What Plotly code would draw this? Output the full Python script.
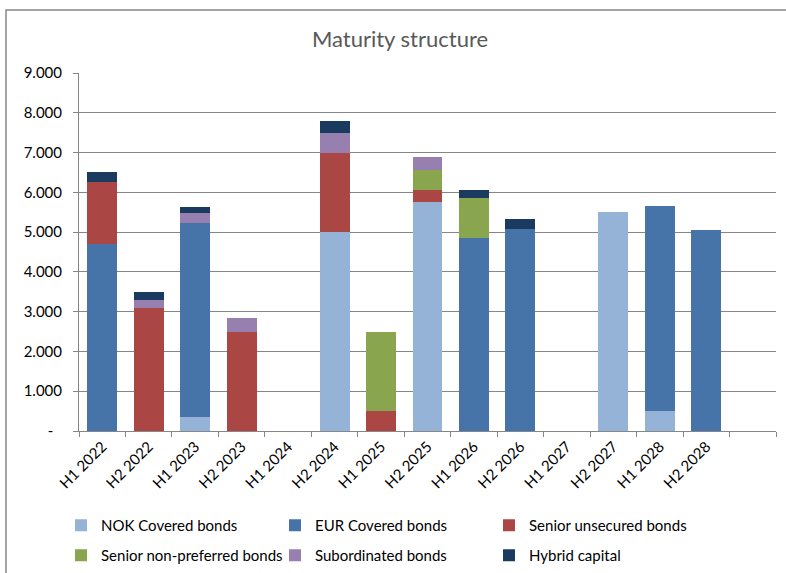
import plotly.graph_objects as go

# Half-year maturity buckets (last slot is an empty spacer on the axis)
periods = ["H1 2022", "H2 2022", "H1 2023", "H2 2023", "H1 2024", "H2 2024",
           "H1 2025", "H2 2025", "H1 2026", "H2 2026", "H1 2027", "H2 2027",
           "H1 2028", "H2 2028", " "]

nok_covered = [0, 0, 350, 0, 0, 5000, 0, 5750, 0, 0, 0, 5500, 500, 0, 0]
eur_covered = [4700, 0, 4870, 0, 0, 0, 0, 0, 4850, 5075, 0, 0, 5160, 5050, 0]
senior_unsecured = [1550, 3100, 0, 2500, 0, 2000, 500, 300, 0, 0, 0, 0, 0, 0, 0]
senior_non_preferred = [0, 0, 0, 0, 0, 0, 2000, 500, 1000, 0, 0, 0, 0, 0, 0]
subordinated = [0, 200, 250, 350, 0, 500, 0, 350, 0, 0, 0, 0, 0, 0, 0]
hybrid_capital = [250, 200, 150, 0, 0, 300, 0, 0, 220, 250, 0, 0, 0, 0, 0]

# (name, values, colour, legend row)
series = [
    ("NOK Covered bonds", nok_covered, "#95B3D7", "legend"),
    ("EUR Covered bonds", eur_covered, "#4674A9", "legend"),
    ("Senior unsecured bonds", senior_unsecured, "#AA4643", "legend"),
    ("Senior non-preferred bonds", senior_non_preferred, "#89A54E", "legend2"),
    ("Subordinated bonds", subordinated, "#977FB0", "legend2"),
    ("Hybrid capital", hybrid_capital, "#1B3A5F", "legend2"),
]

y_tickvals = [0, 1000, 2000, 3000, 4000, 5000, 6000, 7000, 8000, 9000]
y_ticktext = ["-\u2007", "1.000", "2.000", "3.000", "4.000", "5.000",
              "6.000", "7.000", "8.000", "9.000"]

FONT = "Lato, Open Sans, sans-serif"

# plot area in pixels: x 79..776, y 73..431
PL, PR, PT, PB = 79, 776, 73, 431
PW, PH = PR - PL, PB - PT


def px_x(x):
    return (x - PL) / PW


def px_y(y):
    return (PB - y) / PH


fig = go.Figure()
for name, values, color, leg in series:
    fig.add_trace(go.Bar(
        x=periods, y=values, name=name, legend=leg,
        marker=dict(color=color, line=dict(width=0)),
        hovertemplate="%{x}: %{y}<extra>" + name + "</extra>",
    ))

legend_common = dict(orientation="h", xanchor="left", yanchor="top",
                     entrywidth=169, entrywidthmode="pixels",
                     traceorder="normal",
                     font=dict(family=FONT, size=15, color="#000000"),
                     bgcolor="rgba(0,0,0,0)")

fig.update_layout(
    width=786, height=573,
    barmode="stack", bargap=0.355,
    paper_bgcolor="white", plot_bgcolor="white",
    margin=dict(l=PL, r=786 - PR, t=PT, b=573 - PB, autoexpand=False),
    font=dict(family=FONT, size=15, color="#000000"),
    title=dict(text="Maturity structure", x=400 / 786, xanchor="center",
               y=1 - 39 / 573, yanchor="middle",
               font=dict(family=FONT, size=22, color="#595959")),
    legend=dict(x=px_x(61), y=px_y(509), **legend_common),
    legend2=dict(x=px_x(61), y=px_y(539), **legend_common),
    xaxis=dict(type="category", categoryorder="array", categoryarray=periods,
               tickangle=-45, showgrid=False, automargin=False,
               ticks="outside", ticklen=5, tickcolor="#868686",
               tickson="boundaries",
               showline=True, linecolor="#868686", linewidth=1,
               tickfont=dict(family=FONT, size=15, color="#000000")),
    yaxis=dict(range=[0, 9000], tickvals=y_tickvals, ticktext=y_ticktext,
               showgrid=True, gridcolor="#868686", gridwidth=1,
               automargin=False,
               ticks="outside", ticklen=5, tickcolor="#868686",
               ticklabelstandoff=8,
               showline=True, linecolor="#868686", linewidth=1,
               zeroline=False,
               tickfont=dict(family=FONT, size=15, color="#000000")),
    shapes=[dict(type="rect", xref="paper", yref="paper",
                 x0=px_x(6), x1=px_x(800),
                 y0=px_y(590), y1=px_y(10),
                 line=dict(color="#868686", width=1.5),
                 fillcolor="rgba(0,0,0,0)", layer="below")],
)

fig.write_html("out.html")
